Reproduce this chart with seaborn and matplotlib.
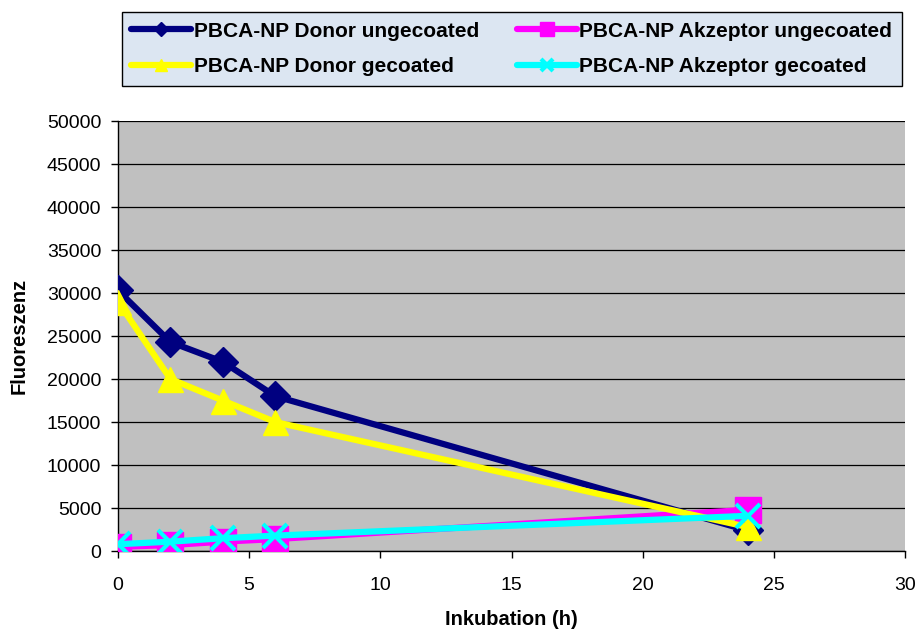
import matplotlib
matplotlib.use("Agg")
import matplotlib.pyplot as plt
import seaborn as sns
import pandas as pd

hours = [0, 2, 4, 6, 24]
donor_ungecoated = [30300, 24300, 22000, 18000, 2400]
akzeptor_ungecoated = [500, 700, 1100, 1400, 4800]
donor_gecoated = [29000, 20000, 17500, 15000, 2800]
akzeptor_gecoated = [800, 1100, 1500, 1800, 4100]

labels = ["PBCA-NP Donor ungecoated", "PBCA-NP Akzeptor ungecoated",
          "PBCA-NP Donor gecoated", "PBCA-NP Akzeptor gecoated"]
series = [donor_ungecoated, akzeptor_ungecoated, donor_gecoated, akzeptor_gecoated]
colors = ["#000080", "#ff00ff", "#ffff00", "#00ffff"]
markers = ["D", "s", "^", "x"]
msizes = [15, 19, 18, 17]

sns.set_style("white")
plt.rcParams['font.family'] = ['Liberation Sans', 'DejaVu Sans']
plt.rcParams['text.color'] = 'black'
plt.rcParams['axes.labelcolor'] = 'black'
plt.rcParams['xtick.color'] = 'black'
plt.rcParams['ytick.color'] = 'black'

fig = plt.figure(figsize=(9.19, 6.32), dpi=100)
ax = fig.add_axes([0.1284, 0.128, 0.8564, 0.6805])
ax.set_facecolor("#c0c0c0")

handles = {}
for lab, vals, c, m, ms in zip(labels, series, colors, markers, msizes):
    df = pd.DataFrame({"h": hours, "v": vals})
    sns.lineplot(data=df, x="h", y="v", ax=ax, color=c, linewidth=4.5,
                 marker=m, markersize=ms, markeredgecolor=c,
                 markeredgewidth=3 if m == "x" else 1, label=lab, legend=False,
                 zorder=3)
    handles[lab] = ax.lines[-1]

ax.set_xlim(0, 30)
ax.set_ylim(0, 50000)
ax.set_xticks(range(0, 31, 5))
ax.set_yticks(range(0, 50001, 5000))
ax.yaxis.grid(True, color="black", linewidth=0.9)
ax.set_axisbelow(True)
for s in ["top", "right"]:
    ax.spines[s].set_visible(False)
for s in ["left", "bottom"]:
    ax.spines[s].set_color("black")
    ax.spines[s].set_linewidth(1)
ax.tick_params(axis="both", direction="out", length=5, width=1, color="black",
               labelcolor="black", labelsize=14, bottom=True, left=True)
ax.tick_params(axis="y", pad=7)
ax.tick_params(axis="x", pad=14)
ax.set_xlabel("Inkubation (h)", fontsize=14.5, fontweight="bold", labelpad=11, color="black")
ax.set_ylabel("Fluoreszenz", fontsize=14.5, fontweight="bold", labelpad=13, color="black")

order = [labels[0], labels[2], labels[1], labels[3]]
leg = fig.legend([handles[l] for l in order], order, ncol=2,
                 bbox_to_anchor=(0.1324, 0.9805, 0.8488, 0.0), loc="upper left",
                 mode="expand", frameon=True, fancybox=False, handlelength=2.9,
                 handletextpad=0.1, borderaxespad=0, prop={"weight": "bold", "size": 15},
                 markerscale=0.5, labelspacing=0.8, borderpad=0.45, labelcolor="black")
leg.get_frame().set_facecolor("#dce6f2")
leg.get_frame().set_edgecolor("black")
leg.get_frame().set_alpha(1)

fig.savefig("out.png", dpi=100)
